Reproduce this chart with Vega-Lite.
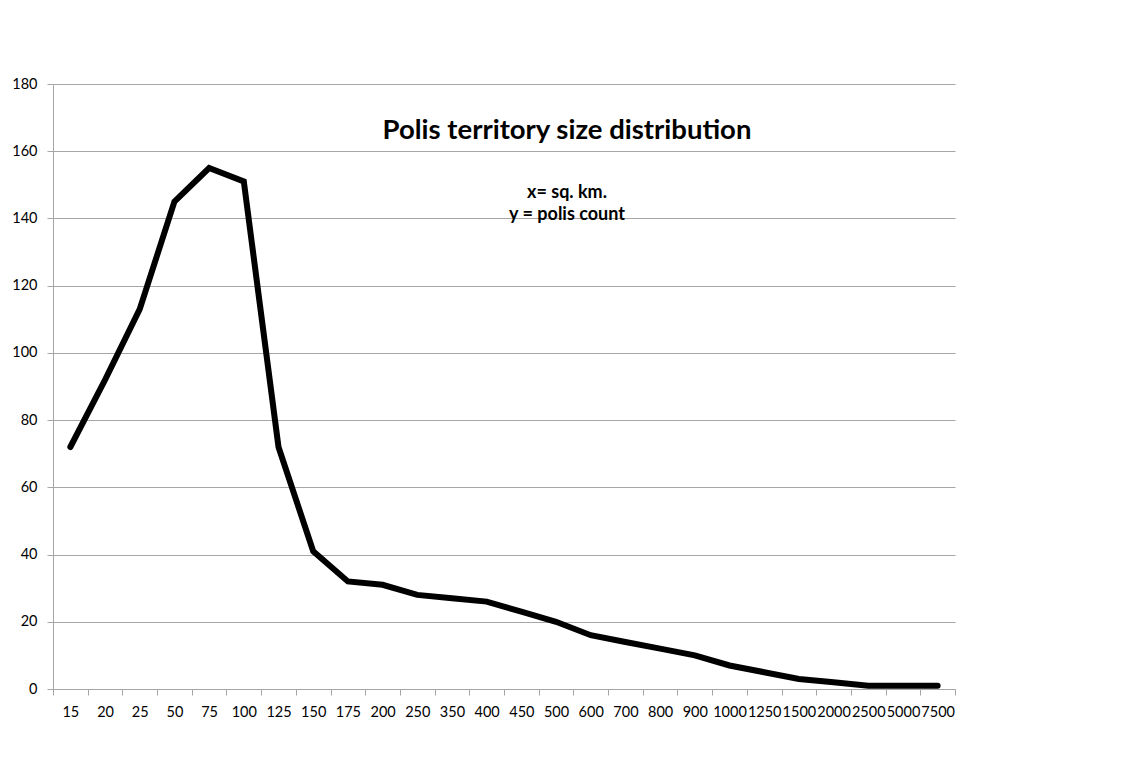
{
  "$schema": "https://vega.github.io/schema/vega-lite/v6.json",
  "width": 902,
  "height": 605,
  "autosize": {"type": "none"},
  "padding": {"left": 53, "top": 84, "right": 166, "bottom": 72},
  "background": "white",
  "config": {
    "font": "Lato",
    "view": {"stroke": null},
    "axis": {
      "labelFont": "Lato",
      "labelFontSize": 14.5,
      "labelColor": "#000000",
      "domainColor": "#a6a6a6",
      "tickColor": "#a6a6a6",
      "gridColor": "#a6a6a6",
      "domainWidth": 1,
      "gridWidth": 1,
      "tickWidth": 1,
      "tickSize": 6
    }
  },
  "title": {
    "text": "Polis territory size distribution",
    "subtitle": ["x= sq. km.", "y = polis count"],
    "anchor": "middle",
    "frame": "group",
    "orient": "top",
    "dx": 63,
    "dy": 152,
    "font": "Lato",
    "fontSize": 27.5,
    "fontWeight": "bold",
    "color": "#000000",
    "subtitleFont": "Lato",
    "subtitleFontSize": 18,
    "subtitleFontWeight": "bold",
    "subtitleColor": "#000000",
    "subtitlePadding": 40,
    "subtitleLineHeight": 22
  },
  "data": {
    "values": [
      {"size": "15", "count": 72},
      {"size": "20", "count": 92},
      {"size": "25", "count": 113},
      {"size": "50", "count": 145},
      {"size": "75", "count": 155},
      {"size": "100", "count": 151},
      {"size": "125", "count": 72},
      {"size": "150", "count": 41},
      {"size": "175", "count": 32},
      {"size": "200", "count": 31},
      {"size": "250", "count": 28},
      {"size": "350", "count": 27},
      {"size": "400", "count": 26},
      {"size": "450", "count": 23},
      {"size": "500", "count": 20},
      {"size": "600", "count": 16},
      {"size": "700", "count": 14},
      {"size": "800", "count": 12},
      {"size": "900", "count": 10},
      {"size": "1000", "count": 7},
      {"size": "1250", "count": 5},
      {"size": "1500", "count": 3},
      {"size": "2000", "count": 2},
      {"size": "2500", "count": 1},
      {"size": "5000", "count": 1},
      {"size": "7500", "count": 1}
    ]
  },
  "mark": {
    "type": "line",
    "color": "#000000",
    "strokeWidth": 6,
    "strokeCap": "round",
    "strokeJoin": "miter"
  },
  "encoding": {
    "x": {
      "field": "size",
      "type": "ordinal",
      "sort": null,
      "scale": {"type": "band", "paddingInner": 0, "paddingOuter": 0},
      "axis": {
        "title": null,
        "labelAngle": 0,
        "tickBand": "extent",
        "labelPadding": 10,
        "grid": false
      }
    },
    "y": {
      "field": "count",
      "type": "quantitative",
      "scale": {"domain": [0, 180], "nice": false},
      "axis": {
        "title": null,
        "values": [0, 20, 40, 60, 80, 100, 120, 140, 160, 180],
        "grid": true,
        "labelPadding": 10
      }
    }
  }
}
